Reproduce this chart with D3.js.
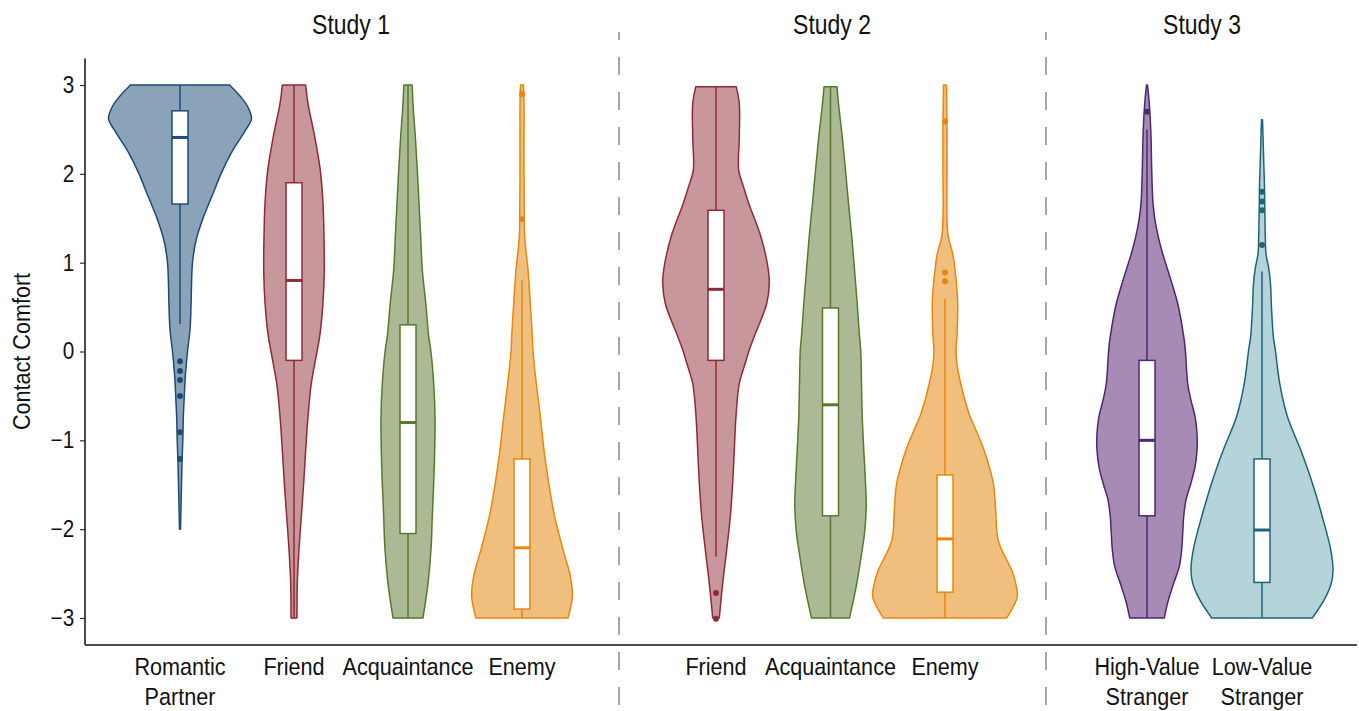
<!DOCTYPE html>
<html>
<head>
<meta charset="utf-8">
<script src="https://cdn.jsdelivr.net/npm/d3@7"></script>
<style>
  html, body { margin: 0; padding: 0; background: #fff; }
  svg text { font-family: "Liberation Sans", Arial, sans-serif; fill: #111; }
</style>
</head>
<body>
<svg id="chart" width="1359" height="711"></svg>
<script>
// ---------------- DATA ----------------
const studies = ["Study 1", "Study 2", "Study 3"];
const study1Cats = ["Romantic Partner", "Friend", "Acquaintance", "Enemy"];
const study2Cats = ["Friend", "Acquaintance", "Enemy"];
const study3Cats = ["High-Value Stranger", "Low-Value Stranger"];
const yTicks = [-3, -2, -1, 0, 1, 2, 3];
const yLabel = "Contact Comfort";

// violin density profiles: [value, relative density]
const densRomantic = [[-2.0,0.5],[-1.75,1],[-1.5,1.5],[-1.25,2],[-1.0,2.8],[-0.75,3.3],[-0.5,4.3],[-0.25,5.5],[0,7.5],[0.25,10],[0.5,11],[0.75,11.5],[1.0,12.5],[1.25,16],[1.5,23],[1.75,32],[2.0,41],[2.25,52],[2.5,66],[2.62,71.5],[2.75,68],[2.85,62],[3.0,49.5]];
const densFriend1 = [[-3,3],[-2.61,3.3],[-2.23,5],[-1.86,7.3],[-1.48,9.7],[-1.11,11.7],[-0.73,14],[-0.36,17.3],[0,23],[0.17,25.7],[0.55,29],[0.92,30.3],[1.29,30],[1.67,29],[2.04,26.3],[2.42,20.7],[2.79,14],[3,11.7]];
const densAcq1 = [[-3,15],[-2.61,20],[-2.23,23],[-1.86,24.3],[-1.48,25.7],[-1.11,26.7],[-0.73,27],[-0.36,25.7],[0.02,22.7],[0.17,20.7],[0.55,17.7],[0.92,14.3],[1.29,12.7],[1.67,11],[2.04,9.3],[2.42,7.3],[2.79,5],[3,4.2]];
const densEnemy1 = [[-3,46],[-2.76,50.3],[-2.53,48.3],[-2.23,41],[-1.86,32.7],[-1.48,26.7],[-1.11,22],[-0.73,18.3],[-0.36,14.3],[0,11],[0.17,10.3],[0.54,8.3],[0.92,6],[1.29,2.7],[1.67,2.2],[2.04,2],[2.42,2],[2.79,2],[3,1.5]];
const densFriend2 = [[-3,3.3],[-2.61,6.7],[-2.23,10.7],[-1.86,14.3],[-1.48,16.7],[-1.11,18.3],[-0.73,20],[-0.36,23.3],[-0.13,29.3],[0.02,33.3],[0.17,38.3],[0.54,50.7],[0.77,53.3],[0.92,52.3],[1.29,45],[1.67,32.7],[1.86,27.3],[2.04,22.7],[2.42,23.3],[2.79,23.3],[2.98,20.3]];
const densAcq2 = [[-3,19],[-2.61,26.3],[-2.23,31.7],[-2.05,34],[-1.75,35.7],[-1.48,35],[-1.11,33.3],[-0.73,31.7],[-0.36,31],[0.02,30.2],[0.17,29],[0.54,26.7],[0.92,24],[1.29,21.3],[1.67,18],[2.04,15],[2.42,11.7],[2.79,8],[2.98,6.5]];
const densEnemy2 = [[-3,61.7],[-2.9,67],[-2.76,72.3],[-2.61,70.7],[-2.46,66.7],[-2.31,60],[-2.16,54],[-2.05,52],[-1.86,51],[-1.67,50],[-1.48,48.3],[-1.3,44.3],[-1.11,39],[-0.92,32.3],[-0.73,25],[-0.55,20],[-0.36,15.7],[-0.17,12.3],[0.02,11],[0.17,12],[0.54,12.7],[0.73,11.7],[0.92,10],[1.1,7.7],[1.29,3.3],[1.48,2],[2.0,2],[2.5,2],[3,1.5]];
const densHigh = [[-3,17.3],[-2.8,21.3],[-2.61,26.7],[-2.42,32.3],[-2.23,34.7],[-2.05,35.7],[-1.86,36.7],[-1.67,39],[-1.48,44],[-1.3,48],[-1.11,50],[-0.92,50],[-0.73,48],[-0.55,44],[-0.36,40.7],[0.02,38.3],[0.17,36.7],[0.54,30.7],[0.92,20.7],[1.1,15.7],[1.29,11.3],[1.48,8],[1.67,6],[2.04,4.7],[2.42,4],[2.79,2.3],[3,0.5]];
const densLow = [[-3,50.3],[-2.8,62],[-2.61,69.3],[-2.46,71],[-2.23,68.7],[-1.86,60.3],[-1.48,50.3],[-1.11,38.7],[-0.73,25.3],[-0.36,17.7],[0.02,13.3],[0.17,11.3],[0.54,9.3],[0.73,8.7],[0.92,7],[1.1,4],[1.29,3.3],[1.48,3],[1.67,2.7],[1.86,2.5],[2.04,2],[2.42,1],[2.61,0.5]];

// box statistics per violin (study order): [whiskerLow, q1, median, q3, whiskerHigh]
const boxStats = [
  [0.31, 1.66, 2.41, 2.71, 3.0],
  [-3.0, -0.10, 0.80, 1.90, 3.0],
  [-3.0, -2.05, -0.80, 0.30, 3.0],
  [-3.0, -2.90, -2.21, -1.21, 0.80],
  [-2.31, -0.10, 0.70, 1.59, 2.98],
  [-3.0, -1.85, -0.60, 0.49, 2.98],
  [-3.0, -2.71, -2.11, -1.39, 0.59],
  [-3.0, -1.85, -1.00, -0.10, 2.50],
  [-3.0, -2.60, -2.01, -1.21, 0.90]
];
const outliers = [
  [-0.11, -0.22, -0.32, -0.50, -0.91, -1.21],
  [],
  [],
  [1.49, 2.90],
  [-2.72, -3.01],
  [],
  [0.79, 0.89, 2.59],
  [2.70],
  [1.20, 1.59, 1.69, 1.80]
];
const densities = [densRomantic, densFriend1, densAcq1, densEnemy1, densFriend2, densAcq2, densEnemy2, densHigh, densLow];
const groupType = ["partner", "friend", "acq", "enemy", "friend", "acq", "enemy", "high", "low"];

// ---------------- STYLE ----------------
const strokeCol = { partner: "#1d4a78", friend: "#8e2b37", acq: "#557a2c", enemy: "#e8870e", high: "#4b2870", low: "#1f6378" };
const fillCol   = { partner: "#8aa3b8", friend: "#c8979b", acq: "#abba95", enemy: "#f0be7d", high: "#a78bb4", low: "#b4d4d9" };
const condense = 0.9;

// ---------------- LAYOUT ----------------
const svg = d3.select("#chart");
const W = 1359, H = 711;
const axisLeftX = 85, axisBottomY = 645;

const y = d3.scaleLinear().domain([-3.3, 3.3]).range([644.6, 58.4]);
const wScale = d3.scaleLinear().domain([0, 80]).range([0, 80]);

const panelScales = [
  d3.scalePoint().domain(study1Cats).range([180, 522]),
  d3.scalePoint().domain(study2Cats).range([716, 945]),
  d3.scalePoint().domain(study3Cats).range([1147, 1262])
];
const panelCats = [study1Cats, study2Cats, study3Cats];
const titleX = [351, 832, 1202];
const dividerX = [619, 1046];

const violins = [];
let idx = 0;
panelCats.forEach((cats, p) => {
  cats.forEach(c => {
    violins.push({ panel: p, cat: c, cx: panelScales[p](c), dens: densities[idx], stats: boxStats[idx], out: outliers[idx], type: groupType[idx] });
    idx++;
  });
});

// dashed dividers
svg.selectAll("line.divider").data(dividerX).join("line")
  .attr("class", "divider")
  .attr("x1", d => d).attr("x2", d => d)
  .attr("y1", 32).attr("y2", H)
  .attr("stroke", "#808080").attr("stroke-width", 1.4)
  .attr("stroke-dasharray", "18 17").attr("stroke-dashoffset", 10);

// violins
const area = d3.area()
  .curve(d3.curveCatmullRom.alpha(0.5))
  .y(d => y(d[0]));

const g = svg.append("g");
violins.forEach(v => {
  const a = area.x0(d => v.cx - wScale(d[1])).x1(d => v.cx + wScale(d[1]));
  g.append("path")
    .attr("d", a(v.dens))
    .attr("fill", fillCol[v.type])
    .attr("stroke", strokeCol[v.type])
    .attr("stroke-width", 1.5)
    .attr("stroke-linejoin", "round");
});

// whiskers + boxes
const boxHalf = 8;
violins.forEach(v => {
  const [wl, q1, med, q3, wh] = v.stats;
  const col = strokeCol[v.type];
  g.append("line").attr("x1", v.cx).attr("x2", v.cx).attr("y1", y(q3)).attr("y2", y(wh))
    .attr("stroke", col).attr("stroke-width", 1.5);
  g.append("line").attr("x1", v.cx).attr("x2", v.cx).attr("y1", y(q1)).attr("y2", y(wl))
    .attr("stroke", col).attr("stroke-width", 1.5);
  g.append("rect").attr("x", v.cx - boxHalf).attr("width", boxHalf * 2)
    .attr("y", y(q3)).attr("height", y(q1) - y(q3))
    .attr("fill", "#fff").attr("stroke", col).attr("stroke-width", 1.5);
  g.append("line").attr("x1", v.cx - boxHalf).attr("x2", v.cx + boxHalf)
    .attr("y1", y(med)).attr("y2", y(med))
    .attr("stroke", col).attr("stroke-width", 3);
  g.selectAll(null).data(v.out).join("circle")
    .attr("cx", v.cx).attr("cy", d => y(d)).attr("r", 3)
    .attr("fill", col);
});

// y axis
const yAxis = d3.axisLeft(y).tickValues(yTicks).tickSize(5).tickPadding(7).tickFormat(d3.format("d"));
const ya = svg.append("g").attr("transform", `translate(${axisLeftX},0)`).call(yAxis);
ya.select(".domain").remove();
ya.selectAll(".tick line").attr("stroke", "#333").attr("stroke-width", 1.2);
ya.selectAll(".tick text").attr("font-size", 23).attr("fill", "#111")
  .attr("transform", `scale(${condense},1)`)
  .style("font-family", '"Liberation Sans", Arial, sans-serif');

// axis lines
svg.append("line").attr("x1", axisLeftX).attr("x2", axisLeftX).attr("y1", y(3.3)).attr("y2", axisBottomY)
  .attr("stroke", "#111").attr("stroke-width", 1.5);
svg.append("line").attr("x1", axisLeftX).attr("x2", 1357).attr("y1", axisBottomY).attr("y2", axisBottomY)
  .attr("stroke", "#111").attr("stroke-width", 1.5);

// y title
svg.append("text")
  .attr("transform", `translate(22, ${y(0)}) rotate(-90) scale(${condense},1)`)
  .attr("text-anchor", "middle").attr("dominant-baseline", "central")
  .attr("font-size", 24).text(yLabel);

// study titles
svg.selectAll("text.study").data(studies).join("text")
  .attr("class", "study")
  .attr("transform", (d, i) => `translate(${titleX[i]},34) scale(0.82,1)`)
  .attr("text-anchor", "middle").attr("font-size", 28)
  .text(d => d);

// x labels (wrap two-word labels)
violins.forEach(v => {
  const words = v.cat.split(" ");
  const t = svg.append("text").attr("text-anchor", "middle").attr("font-size", 24)
    .attr("transform", `translate(${v.cx},0) scale(${condense},1)`);
  t.append("tspan").attr("x", 0).attr("y", 675).text(words[0]);
  if (words.length > 1) {
    t.append("tspan").attr("x", 0).attr("y", 705).text(words.slice(1).join(" "));
  }
});
</script>
</body>
</html>
